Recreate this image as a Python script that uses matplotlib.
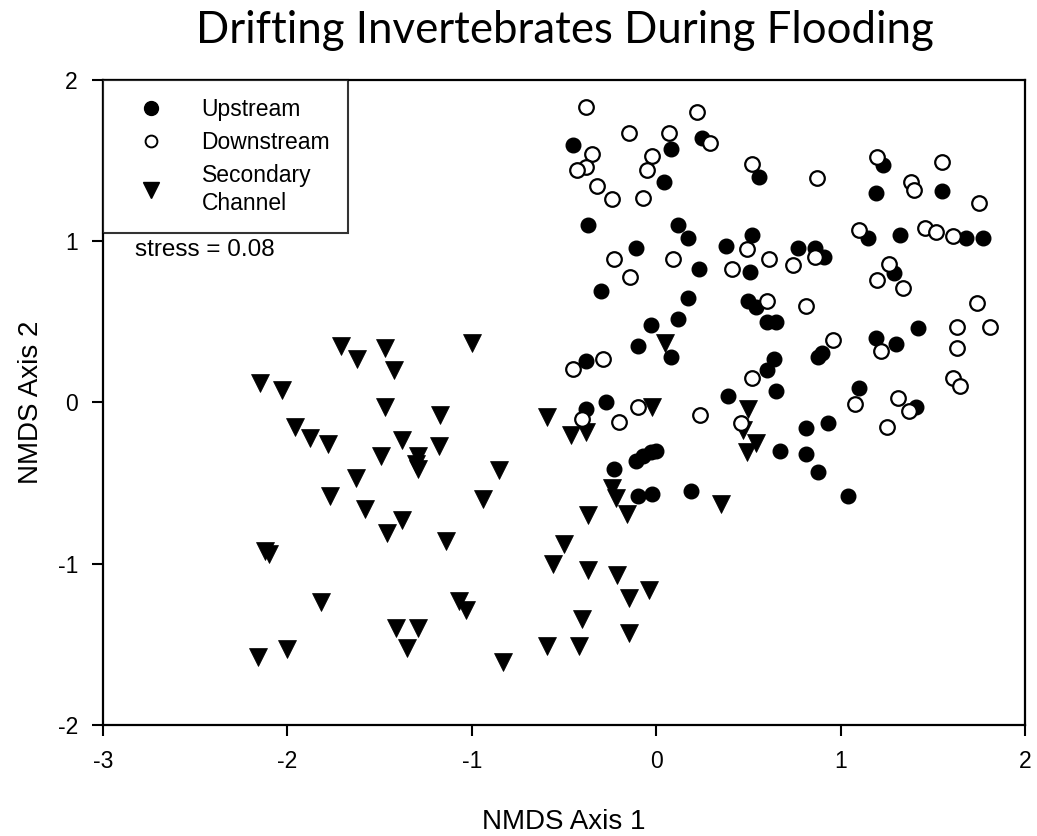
import matplotlib
matplotlib.use("Agg")
import matplotlib.pyplot as plt
from matplotlib.lines import Line2D

# NMDS scores
up_x = [-0.45, 0.08, 0.25, 0.04, -0.37, 0.12, 0.17, 0.38, 0.52, -0.11, 0.56,
        1.23, 1.19, 1.55, 1.15, 1.32, 1.68, 1.77, 0.77, 0.86, 0.91, 1.29,
        0.23, 0.51, -0.30, 0.17, 0.50, 0.54, 0.12, 0.60, 0.65, -0.03, -0.10,
        0.08, 0.64, 0.60, -0.38, 0.65, 0.39, -0.27, -0.38,
        1.42, 1.19, 1.30, 0.90, 0.88, 1.10, 1.41, 0.81, 0.93,
        0.67, -0.11, -0.07, -0.03, 0.00, -0.23, -0.10, -0.02, 0.19, 0.81,
        0.88, 1.04]
up_y = [1.60, 1.57, 1.64, 1.37, 1.10, 1.10, 1.02, 0.97, 1.04, 0.96, 1.40,
        1.47, 1.30, 1.31, 1.02, 1.04, 1.02, 1.02, 0.96, 0.96, 0.90, 0.80,
        0.83, 0.81, 0.69, 0.65, 0.63, 0.59, 0.52, 0.50, 0.50, 0.48, 0.35,
        0.28, 0.27, 0.20, 0.26, 0.07, 0.04, 0.00, -0.04,
        0.46, 0.40, 0.36, 0.31, 0.28, 0.09, -0.03, -0.16, -0.13,
        -0.30, -0.36, -0.33, -0.31, -0.30, -0.41, -0.58, -0.57, -0.55, -0.32,
        -0.43, -0.58]

down_x = [-0.38, 0.22, -0.15, 0.07, 0.29, -0.35, -0.38, -0.43, -0.02, -0.05,
          -0.32, -0.24, -0.07, 0.52, 0.49,
          1.20, 0.87, 1.55, 1.38, 1.40, 1.75, 1.10, 1.46, 1.52, 1.61, 0.86,
          0.74, 1.26, 1.20, 1.34, 0.81, 1.74,
          -0.23, 0.09, 0.61, 0.41, -0.14, 0.60, 0.52, -0.29, -0.45, -0.10,
          0.24, -0.40, -0.20,
          1.63, 1.81, 0.96, 1.22, 1.63, 1.61, 1.65, 1.08, 1.31, 1.37, 1.25,
          0.46]
down_y = [1.83, 1.80, 1.67, 1.67, 1.61, 1.54, 1.46, 1.44, 1.53, 1.44,
          1.34, 1.26, 1.27, 1.48, 0.95,
          1.52, 1.39, 1.49, 1.37, 1.32, 1.24, 1.07, 1.08, 1.06, 1.03, 0.90,
          0.85, 0.86, 0.76, 0.71, 0.60, 0.62,
          0.89, 0.89, 0.89, 0.83, 0.78, 0.63, 0.15, 0.27, 0.21, -0.03,
          -0.08, -0.10, -0.12,
          0.47, 0.47, 0.39, 0.32, 0.34, 0.15, 0.10, -0.01, 0.03, -0.05, -0.15,
          -0.13]

sec_x = [0.05, -0.02, -0.59, 0.50, -0.46, -0.38, 0.47, 0.54, 0.49, -0.24,
         -0.22, 0.35, -0.37, -0.16,
         -0.50, -0.56, -0.37, -0.21, -0.04, -0.15, -0.40, -0.15, -0.59, -0.42,
         -1.71, -1.62, -1.47, -1.42, -1.00, -2.15, -2.03, -1.47, -1.17, -1.96,
         -1.88, -1.78, -1.38, -1.18, -1.49, -1.29, -1.30, -1.29, -0.85, -1.63,
         -1.77, -0.94, -1.58, -1.38, -1.46, -1.14,
         -2.10, -2.12, -1.82, -1.07, -1.03, -1.41, -1.29, -1.35, -2.00, -2.16,
         -0.83]
sec_y = [0.37, -0.03, -0.09, -0.04, -0.20, -0.18, -0.17, -0.25, -0.31, -0.53,
         -0.59, -0.63, -0.70, -0.69,
         -0.88, -1.00, -1.04, -1.07, -1.16, -1.21, -1.34, -1.43, -1.51, -1.51,
         0.35, 0.27, 0.34, 0.20, 0.37, 0.12, 0.08, -0.03, -0.08, -0.15,
         -0.22, -0.26, -0.23, -0.27, -0.33, -0.33, -0.38, -0.41, -0.42, -0.47,
         -0.58, -0.60, -0.66, -0.73, -0.81, -0.86,
         -0.94, -0.92, -1.24, -1.23, -1.29, -1.40, -1.40, -1.52, -1.53, -1.58,
         -1.61]

labels = ["Upstream", "Downstream", "Secondary\nChannel"]
x_ticks = [-3, -2, -1, 0, 1, 2]
y_ticks = [-2, -1, 0, 1, 2]

plt.rcParams["font.family"] = ["Liberation Sans", "DejaVu Sans"]

fig = plt.figure(figsize=(10.37, 8.36), dpi=100)
ax = fig.add_axes([0.0993, 0.1328, 0.8891, 0.7715])

ax.plot(sec_x, sec_y, linestyle="none", marker="v", markersize=12.5,
        color="black", markeredgewidth=0.5)
ax.plot(up_x, up_y, linestyle="none", marker="o", markersize=10.5,
        color="black", markeredgewidth=1.0)
ax.plot(down_x, down_y, linestyle="none", marker="o", markersize=10.5,
        markerfacecolor="white", markeredgecolor="black",
        markeredgewidth=1.6)

ax.set_xlim(-3, 2)
ax.set_ylim(-2, 2)
ax.set_xticks(x_ticks)
ax.set_yticks(y_ticks)
ax.set_xticklabels([str(t) for t in x_ticks])
ax.set_yticklabels([str(t) for t in y_ticks])
ax.tick_params(axis="both", direction="out", length=8, width=1.5,
               labelsize=16.5, top=False, right=False)
ax.tick_params(axis="x", pad=10)
ax.tick_params(axis="y", pad=10)
for sp in ax.spines.values():
    sp.set_linewidth(1.6)

ax.set_xlabel("NMDS Axis 1", fontsize=20, labelpad=26)
ax.set_ylabel("NMDS Axis 2", fontsize=20, labelpad=10)
fig.suptitle("Drifting Invertebrates During Flooding", fontsize=31.5,
             family=["Lato", "DejaVu Sans"], y=0.988, x=0.545)

hdl = [
    Line2D([], [], linestyle="none", marker="o", markersize=10,
           color="black"),
    Line2D([], [], linestyle="none", marker="o", markersize=8.5,
           markerfacecolor="white", markeredgecolor="black",
           markeredgewidth=1.4),
    Line2D([], [], linestyle="none", marker="v", markersize=12,
           color="black"),
]
leg = ax.legend(hdl, labels, loc="upper left", bbox_to_anchor=(0.0, 1.0),
                frameon=True, fancybox=False, fontsize=16.5,
                borderaxespad=0.0, borderpad=0.8, labelspacing=0.42,
                handletextpad=0.9, handlelength=2.6)
leg.set_zorder(5)
leg.get_texts()[2].set_linespacing(1.3)
fr = leg.get_frame()
fr.set_edgecolor("black")
fr.set_linewidth(1.5)
fr.set_facecolor("white")

ax.text(0.035, 0.736, "stress = 0.08", transform=ax.transAxes,
        fontsize=17.5, ha="left", va="center", zorder=6)

fig.savefig("out.png", dpi=100)
